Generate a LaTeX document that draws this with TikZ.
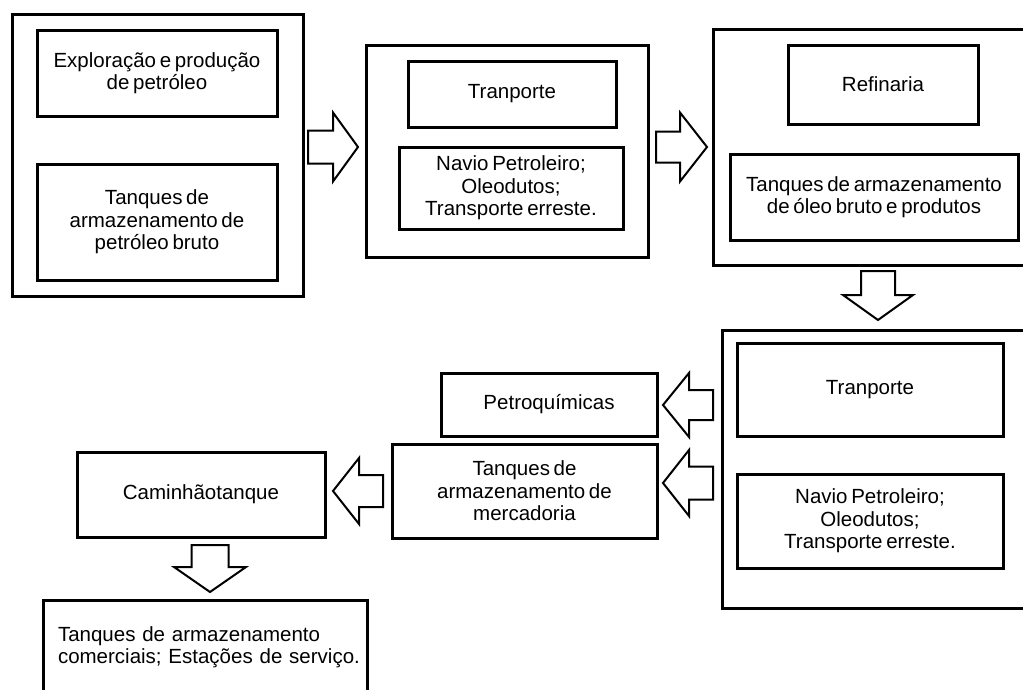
\documentclass[tikz,border=0pt]{standalone}
\usepackage{fontspec}
\setmainfont{Liberation Sans}[WordSpace=0.65]
\usetikzlibrary{calc}
\tikzset{
  bx/.style={draw=black, line width=3pt, fill=white, inner sep=0pt, align=center,
             font=\fontsize{20.5}{22.5}\selectfont},
  outbox/.style={bx},
  fat/.style={draw=black, line width=2pt, fill=white, line join=miter},
}
\newcommand\fatarrow[5]{%
  \path ($(#2)!#5!(#1)$) coordinate (fa-h);
  \draw[fat] ($(#1)!#3!90:(#2)$) -- ($(fa-h)!#3!-90:(#1)$) -- ($(fa-h)!#4!-90:(#1)$)
    -- (#2) -- ($(fa-h)!#4!90:(#1)$) -- ($(fa-h)!#3!90:(#1)$) -- ($(#1)!#3!-90:(#2)$) -- cycle;}
\begin{document}
\begin{tikzpicture}[x=1pt,y=-1pt]
\clip (0,0) rectangle (1023,689);
\fill[white] (0,0) rectangle (1023,689);
% outer boxes
\node[outbox, minimum width=291pt, minimum height=282pt] (o1) at (157.5,155) {};
\node[outbox, minimum width=282pt, minimum height=212pt] (o2) at (507,151) {};
\node[outbox, minimum width=330pt, minimum height=236pt] (o3) at (878,147) {};
\node[outbox, minimum width=330pt, minimum height=278pt] (o4) at (887,469) {};
% inner boxes
\node[bx, minimum width=240pt, minimum height=86pt] (i1a) at (157,73) {Exploração e produção\\de petróleo};
\node[bx, minimum width=240pt, minimum height=116pt] (i1b) at (157,222) {Tanques de\\armazenamento de\\petróleo bruto};
\node[bx, minimum width=208pt, minimum height=66pt] (i2a) at (512,94) {Tranporte};
\node[bx, minimum width=224pt, minimum height=82pt] (i2b) at (511,188) {Navio Petroleiro;\\Oleodutos;\\Transporte erreste.};
\node[bx, minimum width=190pt, minimum height=79pt] (i3a) at (883,84.5) {Refinaria};
\node[bx, minimum width=288pt, minimum height=86pt] (i3b) at (874,197) {Tanques de armazenamento\\de óleo bruto e produtos};
\node[bx, minimum width=266pt, minimum height=93pt] (i4a) at (870,389.5) {Tranporte};
\node[bx, minimum width=266pt, minimum height=94pt] (i4b) at (870,521) {Navio Petroleiro;\\Oleodutos;\\Transporte erreste.};
\node[bx, minimum width=216pt, minimum height=63pt] (petro) at (549,404.5) {Petroquímicas};
\node[bx, minimum width=265pt, minimum height=94pt] (merc) at (524.5,491) {Tanques de\\armazenamento de\\mercadoria};
\node[bx, minimum width=248pt, minimum height=85pt] (cam) at (201,494.5) {Caminhãotanque};
\node[bx, minimum width=324pt, minimum height=94pt, align=left, text width=294pt] (com) at (205,647)
  {\mbox{Tanques de armazenamento}\\\mbox{comerciais; Estações de serviço.}};
% block arrows
\coordinate (a1t) at (308,147);   \coordinate (a1h) at (358,147);
\coordinate (a2t) at (656,147);   \coordinate (a2h) at (707,147);
\coordinate (a3t) at (878,271);   \coordinate (a3h) at (878,320);
\coordinate (a4t) at (713,405);   \coordinate (a4h) at (663,405);
\coordinate (a5t) at (713,483);   \coordinate (a5h) at (663,483);
\coordinate (a6t) at (383,491);   \coordinate (a6h) at (333,491);
\coordinate (a7t) at (210,545);   \coordinate (a7h) at (210,592);
\fatarrow{a1t}{a1h}{16.5pt}{34.5pt}{25pt}
\fatarrow{a2t}{a2h}{15.5pt}{34.5pt}{27pt}
\fatarrow{a3t}{a3h}{17pt}{35pt}{25pt}
\fatarrow{a4t}{a4h}{15pt}{32pt}{26pt}
\fatarrow{a5t}{a5h}{16.5pt}{33pt}{26pt}
\fatarrow{a6t}{a6h}{16pt}{33pt}{26pt}
\fatarrow{a7t}{a7h}{18.5pt}{36pt}{25pt}
\end{tikzpicture}
\end{document}
